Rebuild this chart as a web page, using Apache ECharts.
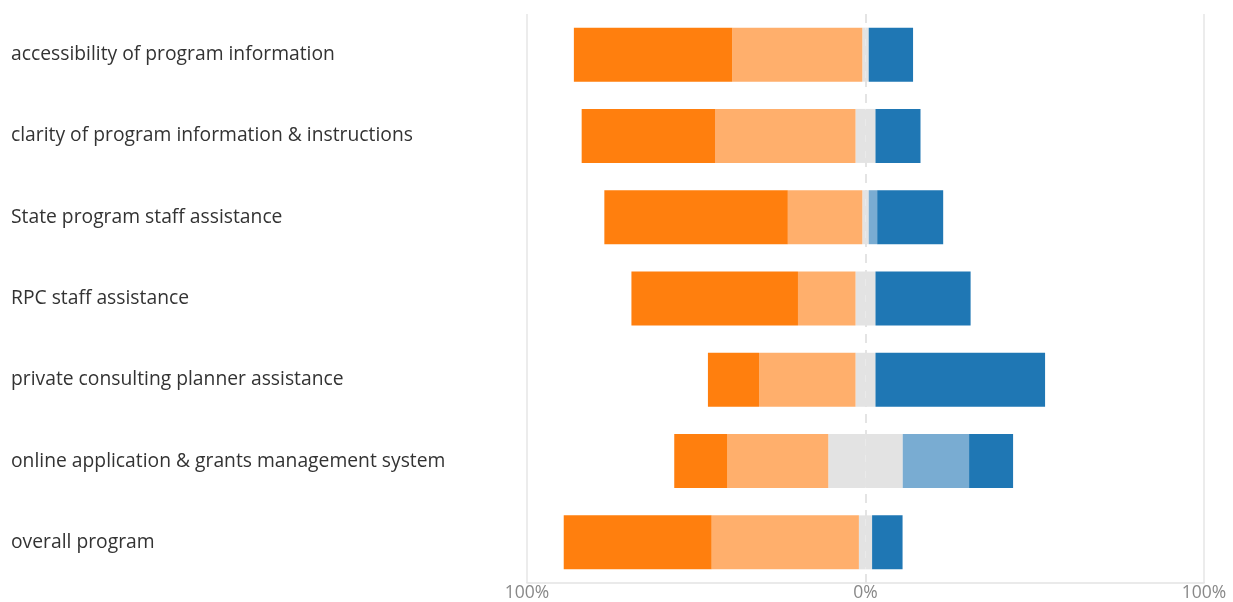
<!DOCTYPE html>
<html>
<head>
<meta charset="utf-8">
<script src="https://cdn.jsdelivr.net/npm/echarts@6/dist/echarts.min.js"></script>
<style>
html,body{margin:0;padding:0;background:#fff;}
#chart{width:1233px;height:602px;}
</style>
</head>
<body>
<div id="chart"></div>
<script>
var categories = [
  "accessibility of program information",
  "clarity of program information & instructions",
  "State program staff assistance",
  "RPC staff assistance",
  "private consulting planner assistance",
  "online application & grants management system",
  "overall program"
];
var veryDissatisfied = [46.8, 39.4, 54.2, 49.2, 15.1, 15.7, 43.7];
var dissatisfied     = [38.4, 41.5, 22.0, 17.0, 28.5, 29.8, 43.5];
var neutral          = [1.9, 5.9, 1.9, 5.9, 5.9, 22.0, 3.9];
var satisfied        = [0, 0, 2.5, 0, 0, 19.6, 0];
var verySatisfied    = [13.1, 13.3, 19.5, 28.1, 50.1, 13.0, 9.0];
var tickLabels = {"-100": "100%", "0": "0%", "100": "100%"};

var colors = {
  vd: "#ff7f0e", d: "#ffaf6c", n: "#e3e3e3", s: "#79acd2", vs: "#1f77b4"
};

function neg(arr){ return arr.map(function(v){ return -v; }); }
function half(arr, sign){ return arr.map(function(v){ return sign * v / 2; }); }

var itemStyle = function(c){ return {color: c, borderWidth: 0}; };
var barCommon = {type: "bar", stack: "total", barWidth: 54, silent: true, z: 3};

var series = [
  Object.assign({name: "neutral-", data: half(neutral, -1), itemStyle: itemStyle(colors.n)}, barCommon),
  Object.assign({name: "neutral+", data: half(neutral, 1), itemStyle: itemStyle(colors.n)}, barCommon),
  Object.assign({name: "dissatisfied", data: neg(dissatisfied), itemStyle: itemStyle(colors.d)}, barCommon),
  Object.assign({name: "satisfied", data: satisfied, itemStyle: itemStyle(colors.s)}, barCommon),
  Object.assign({name: "very dissatisfied", data: neg(veryDissatisfied), itemStyle: itemStyle(colors.vd)}, barCommon),
  Object.assign({name: "very satisfied", data: verySatisfied, itemStyle: itemStyle(colors.vs)}, barCommon)
];

var chart = echarts.init(document.getElementById("chart"), null, {renderer: "canvas"});
chart.setOption({
  animation: false,
  backgroundColor: "#ffffff",
  grid: {left: 527, right: 29, top: 14, bottom: 18, containLabel: false},
  xAxis: [{
    type: "value", min: -100, max: 100, interval: 100,
    axisLine: {show: true, onZero: false, lineStyle: {color: "#e3e3e3", width: 1.5}},
    axisTick: {show: false},
    axisLabel: {
      color: "#888888", fontSize: 17.5, margin: 1,
      fontFamily: "'Open Sans', 'Noto Sans', sans-serif",
      formatter: function(v){ return tickLabels[String(v)] || ""; }
    },
    splitLine: {show: true, lineStyle: {color: ["#e6e6e6", "rgba(0,0,0,0)", "#e6e6e6"], width: 1.5}}
  }, {
    type: "value", min: -100, max: 100, interval: 100, position: "bottom",
    axisLine: {show: false}, axisTick: {show: false}, axisLabel: {show: false},
    splitLine: {show: true, lineStyle: {color: ["rgba(0,0,0,0)", "#dcdcdc", "rgba(0,0,0,0)"], width: 1.5, type: [9, 7]}}
  }],
  yAxis: {
    type: "category", data: categories, inverse: true,
    axisLine: {show: false}, axisTick: {show: false},
    axisLabel: {
      align: "left", margin: 516, color: "#333333", fontSize: 19.3,
      padding: [4, 0, 0, 0],
      fontFamily: "'Open Sans', 'Noto Sans', sans-serif"
    }
  },
  series: series
});
</script>
</body>
</html>
